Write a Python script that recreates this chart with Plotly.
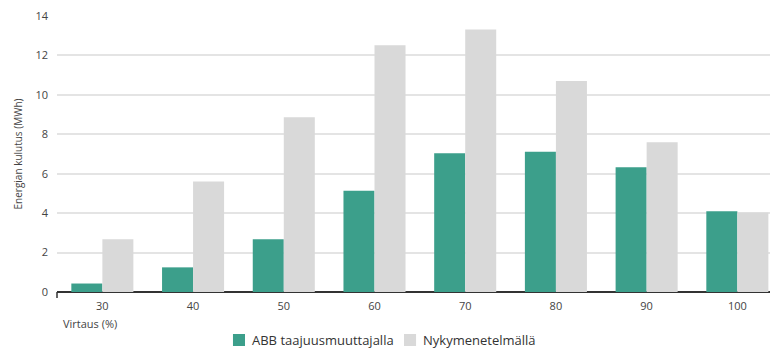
import plotly.graph_objects as go

categories = ["30", "40", "50", "60", "70", "80", "90", "100"]
abb = [0.43, 1.25, 2.68, 5.13, 7.04, 7.12, 6.33, 4.10]
nyky = [2.68, 5.60, 8.86, 12.51, 13.32, 10.70, 7.60, 4.03]
y_ticks = [0, 2, 4, 6, 8, 10, 12, 14]
series_names = ["ABB taajuusmuuttajalla", "Nykymenetelmällä"]
colors = ["#3c9f8b", "#d9d9d9"]

FONT = "Open Sans, sans-serif"

fig = go.Figure()
for name, vals, col in zip(series_names, [abb, nyky], colors):
    fig.add_trace(go.Bar(x=categories, y=vals, name=name,
                         marker=dict(color=col, line=dict(width=0))))

# custom legend (compact swatch-to-text spacing as in the reference)
legend_shapes = []
legend_annots = []
swatch_x = [0.2468, 0.4867]
for i, (name, col) in enumerate(zip(series_names, colors)):
    x0 = swatch_x[i]
    legend_shapes.append(dict(type="rect", xref="paper", yref="paper",
                              x0=x0, x1=x0 + 0.0169, y0=-0.1957, y1=-0.1522,
                              fillcolor=col, line=dict(width=0)))
    legend_annots.append(dict(text=name, xref="paper", yref="paper",
                              x=x0 + 0.0239, y=-0.1739, xanchor="left", yanchor="middle",
                              showarrow=False, font=dict(size=13, color="#333")))

fig.update_layout(
    width=770, height=351,
    margin=dict(l=57, r=0, t=16, b=59),
    barmode="group", bargap=0.316, bargroupgap=0,
    plot_bgcolor="white", paper_bgcolor="white",
    font=dict(family=FONT, size=11, color="#444"),
    showlegend=False,
    xaxis=dict(type="category", range=[-0.5, 7.36], showgrid=False, automargin=False,
               showline=False, ticks="", ticklabelstandoff=6,
               tickfont=dict(size=11, color="#444")),
    yaxis=dict(range=[0, 14], tickvals=y_ticks, showgrid=True, gridcolor="#e4e4e4",
               gridwidth=1.5, zeroline=True, zerolinecolor="#333", zerolinewidth=1.5,
               automargin=False,
               tickfont=dict(size=11, color="#444"), ticklabelstandoff=8,
               title=dict(text="Energian kulutus (MWh)", font=dict(size=10, color="#444"), standoff=10)),
    annotations=[dict(text="Virtaus (%)", xref="paper", yref="paper", x=0.006, y=-0.113,
                      xanchor="left", yanchor="middle", showarrow=False,
                      font=dict(size=11, color="#444"))] + legend_annots,
    shapes=[dict(type="line", xref="paper", yref="paper", x0=0, x1=0, y0=0, y1=-0.022,
                 line=dict(color="#333", width=1.5))] + legend_shapes,
)

fig.write_html("out.html")
